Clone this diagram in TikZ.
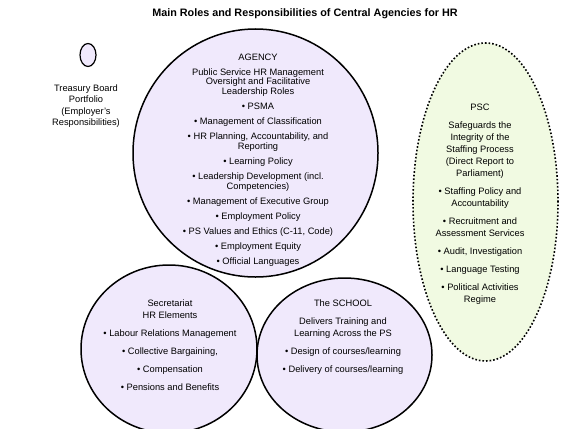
\documentclass[tikz,border=0pt]{standalone}
\usepackage{fontspec}
\setmainfont{Liberation Sans}
\usetikzlibrary{shapes.geometric}

\definecolor{lavender}{RGB}{240,233,252}
\definecolor{palegreen}{RGB}{241,250,226}

\begin{document}
\begin{tikzpicture}[x=1pt, y=-1pt,
		role/.style={ellipse, draw=black, fill=lavender, line width=1.5pt, inner sep=0pt},
		psc/.style={ellipse, draw=black, fill=palegreen, line width=1.6pt, dotted, inner sep=0pt},
		tight/.style={align=center, font=\fontsize{9.3}{9.6}\selectfont, inner sep=0pt, anchor=north},
		loose/.style={align=center, font=\fontsize{9.3}{12}\selectfont, inner sep=0pt, anchor=north}]
		
		\useasboundingbox (0,0) rectangle (585,428);
		
		% Titel
		\node[font=\bfseries\fontsize{10.8}{12}\selectfont] (title) at (305,14) {Main Roles and Responsibilities of Central Agencies for HR};
		
		% Treasury Board
		\node[role, line width=1.2pt, minimum width=16pt, minimum height=23pt] (tb) at (88,55) {};
		\node[loose, font=\fontsize{9.3}{11.5}\selectfont] (tbtext) at (86,84.5) {Treasury Board\\Portfolio\\(Employer's\\Responsibilities)};
		
		% Ellipsen
		\node[psc, minimum width=145pt, minimum height=318pt] (pscell) at (485.5,202) {};
		\node[role, minimum width=176pt, minimum height=168pt] (secr) at (169,349) {};
		\node[role, minimum width=175pt, minimum height=154pt] (school) at (344.5,355) {};
		\node[role, minimum width=245pt, minimum height=248pt] (agency) at (255.5,153) {};
		
		% AGENCY
		\node[tight] (agencytext) at (258,53.5) {AGENCY\\[5.5pt]
			Public Service HR Management\\Oversight and Facilitative\\Leadership Roles\\[5.5pt]
			• PSMA\\[5.5pt]
			• Management of Classification\\[5.5pt]
			• HR Planning, Accountability, and\\Reporting\\[5.5pt]
			• Learning Policy\\[5.5pt]
			• Leadership Development (incl.\\Competencies)\\[5.5pt]
			• Management of Executive Group\\[5.5pt]
			• Employment Policy\\[5.5pt]
			• PS Values and Ethics (C-11, Code)\\[5.5pt]
			• Employment Equity\\[5.5pt]
			• Official Languages};
		
		% PSC
		\node[loose] (psctext) at (480,103.5) {PSC\\[6pt]
			Safeguards the\\Integrity of the\\Staffing Process\\(Direct Report to\\Parliament)\\[6pt]
			• Staffing Policy and\\Accountability\\[6pt]
			• Recruitment and\\Assessment Services\\[6pt]
			• Audit, Investigation\\[6pt]
			• Language Testing\\[6pt]
			• Political Activities\\Regime};
		
		% Secretariat
		\node[loose] (secrtext) at (170,299.5) {Secretariat\\HR Elements\\[6pt]
			• Labour Relations Management\\[6pt]
			• Collective Bargaining,\\[6pt]
			• Compensation\\[6pt]
			• Pensions and Benefits};
		
		% School
		\node[loose] (schooltext) at (343,299.5) {The SCHOOL\\[6pt]
			Delivers Training and\\Learning Across the PS\\[6pt]
			• Design of courses/learning\\[6pt]
			• Delivery of courses/learning};
		
	\end{tikzpicture}
\end{document}
